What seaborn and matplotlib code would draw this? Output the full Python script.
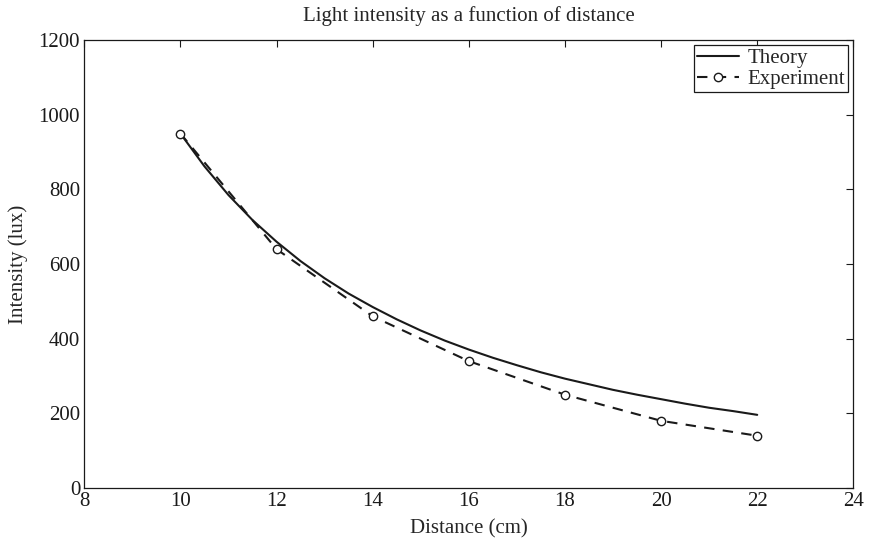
import matplotlib
matplotlib.use('Agg')
import matplotlib.pyplot as plt
import seaborn as sns
import pandas as pd

# theory curve, every 0.5 cm
theory_d = [10, 10.5, 11, 11.5, 12, 12.5, 13, 13.5, 14, 14.5, 15, 15.5, 16, 16.5,
            17, 17.5, 18, 18.5, 19, 19.5, 20, 20.5, 21, 21.5, 22]
theory_i = [950, 862, 785, 718, 660, 608, 562, 521, 485, 452, 422, 395, 371, 349,
            329, 310, 293, 278, 263, 250, 238, 226, 215, 206, 196]

# measured points
exp_d = [10, 12, 14, 16, 18, 20, 22]
exp_i = [950, 640, 460, 340, 250, 180, 140]

sns.set_style('white')
plt.rcParams['font.family'] = ['Liberation Serif', 'DejaVu Serif']
plt.rcParams['font.size'] = 14
plt.rcParams['xtick.direction'] = 'in'
plt.rcParams['ytick.direction'] = 'in'

theory = pd.DataFrame({'d': theory_d, 'i': theory_i})
exp = pd.DataFrame({'d': exp_d, 'i': exp_i})

fig, ax = plt.subplots(figsize=(8.69, 5.44), dpi=100)
sns.lineplot(data=theory, x='d', y='i', ax=ax, color='#1a1a1a', lw=1.5, label='Theory')
sns.lineplot(data=exp, x='d', y='i', ax=ax, color='#1a1a1a', lw=1.5, linestyle=(0, (5, 4)),
             marker='o', markersize=6, markerfacecolor='white', markeredgecolor='#1a1a1a',
             markeredgewidth=1.0, label='Experiment')

ax.set_xlim(8, 24)
ax.set_ylim(0, 1200)
ax.set_xticks(range(8, 25, 2))
ax.set_yticks(range(0, 1201, 200))
ax.tick_params(top=True, right=True, length=5, width=0.8, labelsize=15, colors='#1a1a1a', pad=3)
for s in ax.spines.values():
    s.set_color('#1a1a1a')
    s.set_linewidth(0.9)

ax.set_xlabel('Distance (cm)', fontsize=15, labelpad=6)
ax.set_ylabel('Intensity (lux)', fontsize=15, labelpad=8)
ax.set_title('Light intensity as a function of distance', fontsize=15, pad=14)

leg = ax.legend(loc='upper right', fontsize=15, fancybox=False, framealpha=1,
                edgecolor='#1a1a1a', borderpad=0.15, handlelength=2.0, handletextpad=0.4,
                labelspacing=0.05, borderaxespad=0.25)
leg.get_frame().set_linewidth(0.9)

fig.subplots_adjust(left=0.097, right=0.982, top=0.926, bottom=0.103)
fig.savefig('out.png', dpi=100)
